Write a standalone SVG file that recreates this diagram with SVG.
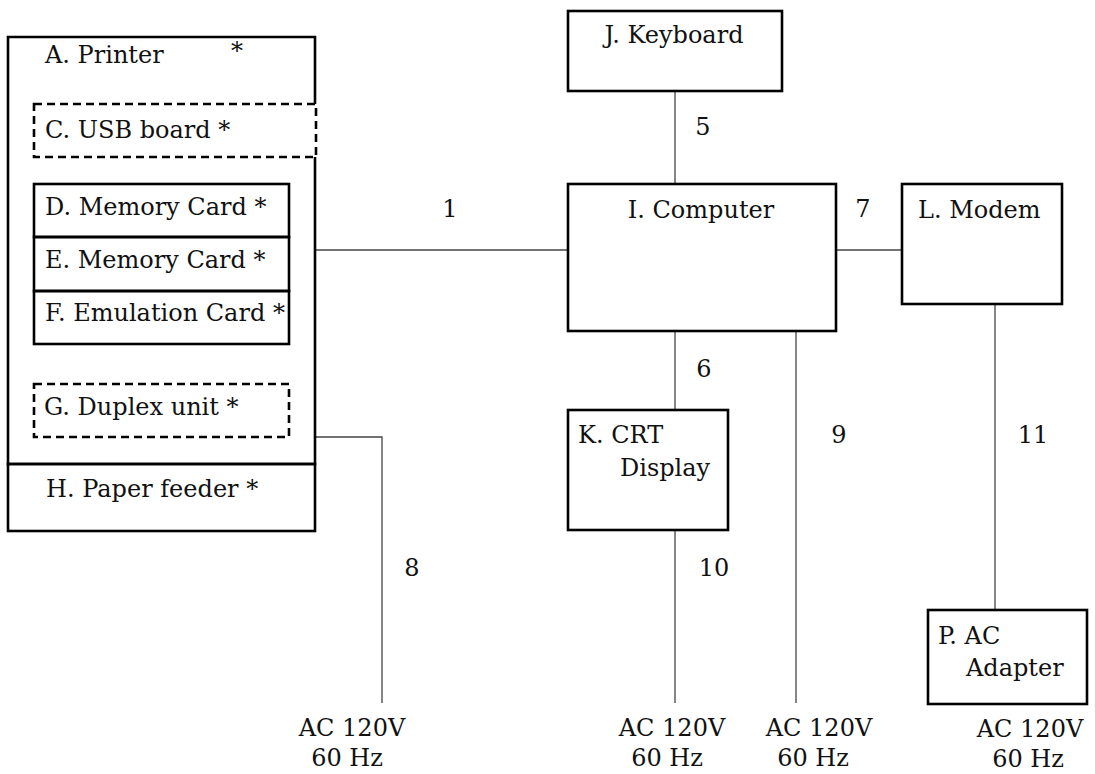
<svg xmlns="http://www.w3.org/2000/svg" width="1095" height="774" viewBox="0 0 1095 774">
<style>
  .box { fill: none; stroke: #000; stroke-width: 2.6; }
  .dash { fill: none; stroke: #000; stroke-width: 2.6; stroke-dasharray: 8 5; }
  .wire { fill: none; stroke: #444; stroke-width: 1.3; }
  text { font-family: "DejaVu Serif", "Liberation Serif", serif; font-size: 24px; fill: #111; }
  .m { text-anchor: middle; }
</style>
<rect width="1095" height="774" fill="#fff"/>

<g id="connectors">
  <line class="wire" x1="315" y1="250" x2="568" y2="250"/>
  <line class="wire" x1="675" y1="91" x2="675" y2="184"/>
  <line class="wire" x1="675" y1="331" x2="675" y2="410"/>
  <line class="wire" x1="836" y1="250" x2="902" y2="250"/>
  <polyline class="wire" points="315,437 382,437 382,703"/>
  <line class="wire" x1="796" y1="331" x2="796" y2="703"/>
  <line class="wire" x1="675" y1="530" x2="675" y2="703"/>
  <line class="wire" x1="995" y1="304" x2="995" y2="610"/>
  <text class="m" x="450" y="217">1</text>
  <text class="m" x="703" y="135">5</text>
  <text class="m" x="704" y="377">6</text>
  <text class="m" x="863" y="217">7</text>
  <text class="m" x="412" y="576">8</text>
  <text class="m" x="839" y="443">9</text>
  <text class="m" x="714" y="576">10</text>
  <text class="m" x="1033" y="443">11</text>
</g>

<g id="printer">
  <path class="box" d="M315,104 V37 H8 V464 H315 V157"/>
  <text x="45" y="63">A. Printer<tspan x="231" y="59">*</tspan></text>
</g>
<g id="usb-board">
  <rect class="dash" x="34" y="104" width="282" height="53"/>
  <text x="45" y="138">C. USB board *</text>
</g>
<g id="memory-card-d">
  <rect class="box" x="34" y="184" width="255" height="53"/>
  <text x="45" y="215">D. Memory Card *</text>
</g>
<g id="memory-card-e">
  <rect class="box" x="34" y="237" width="255" height="54"/>
  <text x="45" y="268">E. Memory Card *</text>
</g>
<g id="emulation-card">
  <rect class="box" x="34" y="291" width="255" height="53"/>
  <text x="45" y="321">F. Emulation Card *</text>
</g>
<g id="duplex-unit">
  <rect class="dash" x="34" y="384" width="255" height="53"/>
  <text x="44" y="415">G. Duplex unit *</text>
</g>
<g id="paper-feeder">
  <rect class="box" x="8" y="464" width="307" height="67"/>
  <text x="46" y="497">H. Paper feeder *</text>
</g>
<g id="keyboard">
  <rect class="box" x="568" y="11" width="214" height="80"/>
  <text class="m" x="674" y="43">J. Keyboard</text>
</g>
<g id="computer">
  <rect class="box" x="568" y="184" width="268" height="147"/>
  <text class="m" x="701" y="218">I. Computer</text>
</g>
<g id="modem">
  <rect class="box" x="902" y="184" width="160" height="120"/>
  <text x="918" y="218">L. Modem</text>
</g>
<g id="crt-display">
  <rect class="box" x="568" y="410" width="160" height="120"/>
  <text x="578" y="443">K. CRT</text>
  <text x="620" y="476">Display</text>
</g>
<g id="ac-adapter">
  <rect class="box" x="928" y="610" width="159" height="94"/>
  <text x="938" y="644">P. AC</text>
  <text x="966" y="676">Adapter</text>
</g>
<g id="power-8">
  <text class="m" x="352" y="736">AC 120V</text>
  <text class="m" x="347" y="766">60 Hz</text>
</g>
<g id="power-10">
  <text class="m" x="672" y="736">AC 120V</text>
  <text class="m" x="667" y="766">60 Hz</text>
</g>
<g id="power-9">
  <text class="m" x="819" y="736">AC 120V</text>
  <text class="m" x="813" y="766">60 Hz</text>
</g>
<g id="power-11">
  <text class="m" x="1030" y="737">AC 120V</text>
  <text class="m" x="1028" y="767">60 Hz</text>
</g>
</svg>
